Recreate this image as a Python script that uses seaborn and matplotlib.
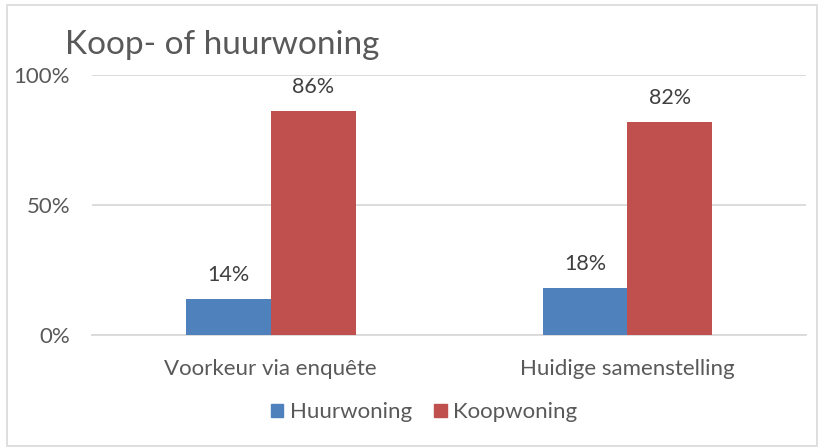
import matplotlib
matplotlib.use('Agg')
import matplotlib.pyplot as plt
import matplotlib.patches as mpatches
import seaborn as sns
import pandas as pd

# data
categories = ['Voorkeur via enquête', 'Huidige samenstelling']
huur = [0.14, 0.18]
koop = [0.86, 0.82]
series_names = ['Huurwoning', 'Koopwoning']
colors = ['#4F81BD', '#C0504D']

df = pd.DataFrame({
    'categorie': categories * 2,
    'waarde': huur + koop,
    'type': [series_names[0]] * len(categories) + [series_names[1]] * len(categories),
})

sns.set_style('white')
plt.rcParams['font.family'] = ['Lato', 'DejaVu Sans']
txt = '#595959'

fig = plt.figure(figsize=(8.24, 4.48), dpi=100)
ax = fig.add_axes([0.112, 0.252, 0.866, 0.581])

sns.barplot(data=df, x='categorie', y='waarde', hue='type', palette=colors,
            width=0.476, saturation=1, linewidth=0, ax=ax, legend=False, zorder=3)

for c in ax.containers:
    labels = [f'{v * 100:.0f}%' for v in c.datavalues]
    ax.bar_label(c, labels=labels, padding=10, fontsize=15.5, color='#404040')

ax.set_ylim(0, 1)
ax.set_xlim(-0.5, 1.5)
ax.set_yticks([0, 0.5, 1.0])
ax.set_yticklabels(['0%', '50%', '100%'])
ax.yaxis.grid(True, color='#D9D9D9', linewidth=1.3, zorder=0)
ax.set_axisbelow(True)
for s in ['top', 'right', 'left']:
    ax.spines[s].set_visible(False)
ax.spines['bottom'].set_color('#D9D9D9')
ax.spines['bottom'].set_linewidth(1.3)
ax.tick_params(axis='both', length=0, labelsize=16, labelcolor=txt)
ax.tick_params(axis='y', pad=16)
ax.tick_params(axis='x', pad=17)
ax.set_xlabel('')
ax.set_ylabel('')

fig.text(0.079, 0.9, 'Koop- of huurwoning', fontsize=24, color=txt, ha='left', va='center')

handles = [mpatches.Patch(color=col, label=name) for col, name in zip(colors, series_names)]
fig.legend(handles=handles, loc='center', bbox_to_anchor=(0.515, 0.08), ncol=2, frameon=False,
           fontsize=16, labelcolor=txt, handlelength=0.55, handleheight=0.55,
           handletextpad=0.3, columnspacing=1.0)

# outer chart border
fig.patches.append(mpatches.Rectangle((0.008, 0.004), 0.984, 0.984, transform=fig.transFigure,
                                      fill=False, edgecolor='#D9D9D9', linewidth=1.2))

fig.savefig('out.png', dpi=100)
